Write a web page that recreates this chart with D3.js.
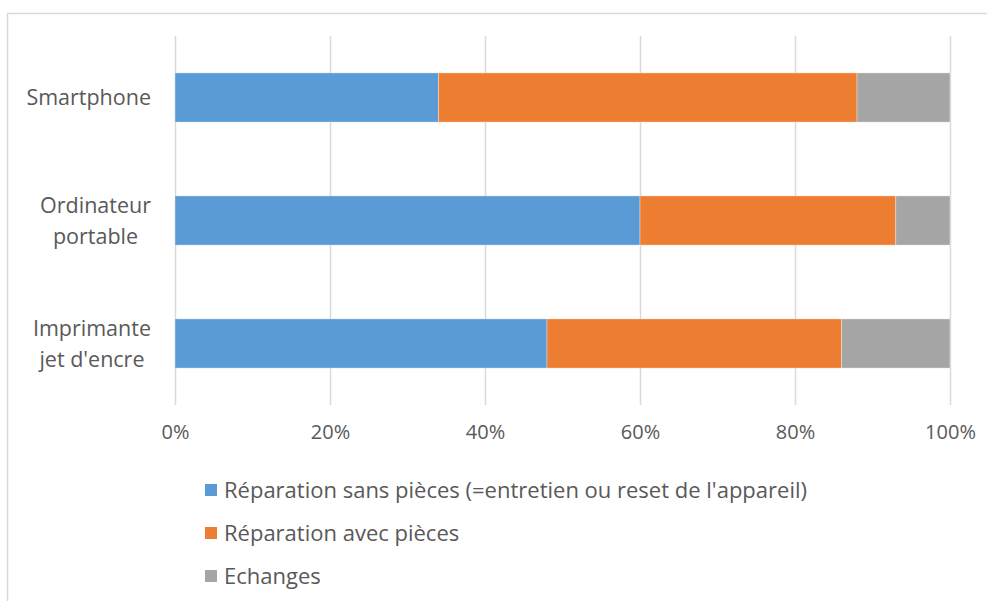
<!DOCTYPE html>
<html>
<head>
<meta charset="utf-8">
<script src="https://cdn.jsdelivr.net/npm/d3@7"></script>
<style>
  html, body { margin: 0; padding: 0; background: #fff; }
  svg { display: block; font-family: "Open Sans", "Noto Sans", sans-serif; }
</style>
</head>
<body>
<svg id="chart" width="987" height="601"></svg>
<script>
// Répartition des interventions par type d'appareil (en %)
const categories = ["Smartphone", "Ordinateur portable", "Imprimante jet d'encre"];
const categoryLines = [["Smartphone"], ["Ordinateur", "portable"], ["Imprimante", "jet d'encre"]];
const seriesNames = [
  "Réparation sans pièces (=entretien ou reset de l'appareil)",
  "Réparation avec pièces",
  "Echanges"
];
const sansPieces = [34, 60, 48];
const avecPieces = [54, 33, 38];
const echanges = [12, 7, 14];
const xTicks = [0, 0.2, 0.4, 0.6, 0.8, 1];
const colors = ["#5b9bd5", "#ed7d31", "#a5a5a5"];

const rows = categories.map((c, i) => ({
  cat: c,
  s0: sansPieces[i],
  s1: avecPieces[i],
  s2: echanges[i]
}));
const keys = ["s0", "s1", "s2"];
const stacked = d3.stack().keys(keys).offset(d3.stackOffsetExpand)(rows);

const svg = d3.select("#chart");
const textColor = "#595959";
const gridColor = "#d9d9d9";
const fontSize = "21.5px";

// outer chart frame
svg.append("rect")
  .attr("x", 7.5).attr("y", 13.5)
  .attr("width", 1200).attr("height", 1200)
  .attr("fill", "none").attr("stroke", gridColor).attr("stroke-width", 1.5);

const plot = { left: 175, right: 950, top: 36, bottom: 405 };

const x = d3.scaleLinear().domain([0, 1]).range([plot.left, plot.right]);
const y = d3.scaleBand().domain(categories).range([plot.top, plot.bottom]).paddingInner(0.6).paddingOuter(0.3);

// vertical gridlines + percentage labels
const xAxis = d3.axisBottom(x)
  .tickValues(xTicks)
  .tickFormat(d3.format(".0%"))
  .tickSize(plot.bottom - plot.top)
  .tickPadding(20);

const gx = svg.append("g")
  .attr("transform", `translate(0,${plot.top})`)
  .call(xAxis);
gx.select(".domain").remove();
gx.selectAll(".tick line").attr("stroke", gridColor).attr("stroke-width", 1.5);
gx.selectAll(".tick text")
  .attr("fill", textColor)
  .style("font-size", "20px")
  .style("font-family", "'Open Sans', 'Noto Sans', sans-serif");

// stacked bars
svg.append("g")
  .selectAll("g")
  .data(stacked)
  .join("g")
  .attr("fill", (d, i) => colors[i])
  .selectAll("rect")
  .data(d => d)
  .join("rect")
  .attr("x", d => x(d[0]))
  .attr("width", d => x(d[1]) - x(d[0]))
  .attr("y", d => y(d.data.cat))
  .attr("height", y.bandwidth())
  .attr("stroke", "#fff")
  .attr("stroke-opacity", 0.35)
  .attr("stroke-width", 1);

// category labels, each block right-aligned with its lines centred
const labelRight = 151;
const lineGap = 31;
categories.forEach((c, i) => {
  const lines = categoryLines[i];
  const g = svg.append("g");
  const cy = y(c) + y.bandwidth() / 2;
  const texts = lines.map((ln, j) =>
    g.append("text")
      .attr("y", cy + (j - (lines.length - 1) / 2) * lineGap)
      .attr("dy", "0.35em")
      .attr("text-anchor", "middle")
      .attr("fill", textColor)
      .style("font-size", fontSize)
      .text(ln)
  );
  const w = d3.max(texts, t => t.node().getComputedTextLength());
  texts.forEach(t => t.attr("x", labelRight - w / 2));
});

// legend
const legend = svg.append("g");
const legendY = [490, 533, 576];
seriesNames.forEach((name, i) => {
  legend.append("rect")
    .attr("x", 205).attr("y", legendY[i] - 6)
    .attr("width", 12).attr("height", 12)
    .attr("fill", colors[i]);
  legend.append("text")
    .attr("x", 224).attr("y", legendY[i])
    .attr("dy", "0.35em")
    .attr("fill", textColor)
    .style("font-size", "22px")
    .text(name);
});
</script>
</body>
</html>
